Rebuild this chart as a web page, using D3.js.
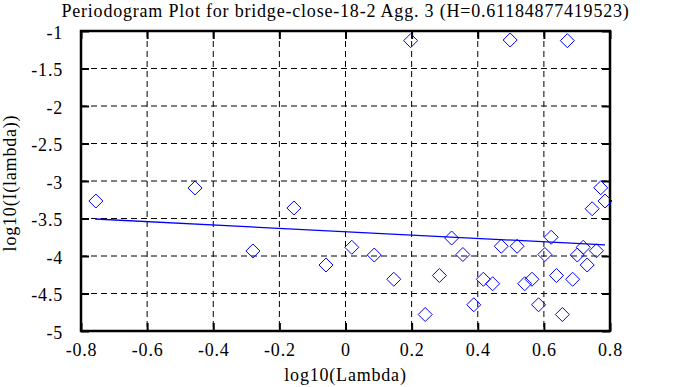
<!DOCTYPE html>
<html>
<head>
<meta charset="utf-8">
<script src="https://cdn.jsdelivr.net/npm/d3@7"></script>
<style>
  body { margin: 0; background: #fff; }
  svg { display: block; }
  .serif { font-family: "Liberation Serif"; }
</style>
</head>
<body>
<svg id="chart" width="683" height="387"></svg>
<script>
// periodogram points
const logLambda = [
  -0.755, -0.455, -0.280, -0.156, -0.059, 0.019, 0.087, 0.146, 0.197, 0.241,
  0.284, 0.321, 0.355, 0.388, 0.417, 0.445, 0.471, 0.498, 0.519, 0.542,
  0.564, 0.584, 0.603, 0.622, 0.638, 0.656, 0.671, 0.687, 0.701, 0.719,
  0.731, 0.746, 0.759, 0.772, 0.785
];
const logI = [
  -3.267, -3.093, -3.933, -3.360, -4.120, -3.884, -3.987, -4.310, -1.129, -4.780,
  -4.260, -3.760, -3.980, -4.650, -4.310, -4.370, -3.870, -1.120, -3.870, -4.370,
  -4.310, -4.650, -3.980, -3.750, -4.260, -4.780, -1.129, -4.310, -3.987, -3.884,
  -4.120, -3.370, -3.930, -3.090, -3.267
];
// fitted line: slope = 1 - 2H
const H = 0.61184877419523;
const fitIntercept = -3.676;
const fitX = [-0.757, 0.785];

const xTicks = [-0.8, -0.6, -0.4, -0.2, 0, 0.2, 0.4, 0.6, 0.8];
const yTicks = [-1, -1.5, -2, -2.5, -3, -3.5, -4, -4.5, -5];

const titleText = "Periodogram Plot for bridge-close-18-2 Agg. 3 (H=" + H + ")";
const xLabel = "log10(Lambda)";
const yLabel = "log10(I(lambda))";

const FS = 18;
const LS = 0.8;

const svg = d3.select("#chart");
const margin = { top: 31, right: 73, bottom: 56, left: 81 };
const width = 683 - margin.left - margin.right;
const height = 387 - margin.top - margin.bottom;
const g = svg.append("g").attr("transform", `translate(${margin.left},${margin.top})`);

const x = d3.scaleLinear().domain([-0.8, 0.8]).range([0, width]);
const y = d3.scaleLinear().domain([-5, -1]).range([height, 0]);

const fmt = d => d3.format("")(d).replace("−", "-");

// grid
g.append("g").selectAll("line").data(xTicks.slice(1, -1)).join("line")
  .attr("x1", d => x(d)).attr("x2", d => x(d))
  .attr("y1", 0).attr("y2", height)
  .attr("stroke", "#000").attr("stroke-dasharray", "6,4");
g.append("g").selectAll("line").data(yTicks.slice(1, -1)).join("line")
  .attr("y1", d => y(d)).attr("y2", d => y(d))
  .attr("x1", 0).attr("x2", width)
  .attr("stroke", "#000").attr("stroke-dasharray", "6,4");

// axes, ticks inside on all sides
const tk = 8;
const xb = g.append("g").attr("transform", `translate(0,${height})`)
  .call(d3.axisBottom(x).tickValues(xTicks).tickSize(-tk).tickFormat(fmt));
const xt = g.append("g")
  .call(d3.axisTop(x).tickValues(xTicks).tickSize(-tk).tickFormat(""));
const yl = g.append("g")
  .call(d3.axisLeft(y).tickValues(yTicks).tickSize(-tk).tickPadding(tk + 10).tickFormat(fmt));
const yr = g.append("g").attr("transform", `translate(${width},0)`)
  .call(d3.axisRight(y).tickValues(yTicks).tickSize(-tk).tickFormat(""));
[xb, xt, yl, yr].forEach(a => {
  a.attr("font-family", null).attr("font-size", null);
  a.select(".domain").remove();
  a.selectAll(".tick line").attr("stroke", "#000").attr("stroke-width", 2);
  a.selectAll("text").attr("class", "serif")
    .style("font-size", FS + "px").style("letter-spacing", LS + "px").attr("fill", "#000");
});
xb.selectAll("text").attr("y", 25).attr("dy", 0);
yl.selectAll("text").attr("dy", "0.4em");

g.append("rect").attr("width", width).attr("height", height)
  .attr("fill", "none").attr("stroke", "#000").attr("stroke-width", 2.5);

// fitted line
const slope = 1 - 2 * H;
g.append("line")
  .attr("x1", x(fitX[0])).attr("y1", y(fitIntercept + slope * fitX[0]))
  .attr("x2", x(fitX[1])).attr("y2", y(fitIntercept + slope * fitX[1]))
  .attr("stroke", "#0000ff").attr("stroke-width", 1.3);

// diamonds
const pts = logLambda.map((v, i) => ({ lx: v, ly: logI[i] }));
const r = 7;
g.append("g").selectAll("path").data(pts).join("path")
  .attr("d", d => `M${x(d.lx)},${y(d.ly) - r}L${x(d.lx) + r},${y(d.ly)}L${x(d.lx)},${y(d.ly) + r}L${x(d.lx) - r},${y(d.ly)}Z`)
  .attr("fill", "none").attr("stroke", "#0000ff").attr("stroke-width", 1);

// labels
const lab = svg.append("g").attr("text-anchor", "middle");
[
  [`translate(${margin.left + width / 2},17)`, titleText],
  [`translate(${margin.left + width / 2},381)`, xLabel],
  ["translate(16,183) rotate(-90)", yLabel]
].forEach(([t, s]) => {
  lab.append("text").attr("class", "serif").attr("transform", t)
    .style("font-size", FS + "px").style("letter-spacing", LS + "px").text(s);
});
</script>
</body>
</html>
